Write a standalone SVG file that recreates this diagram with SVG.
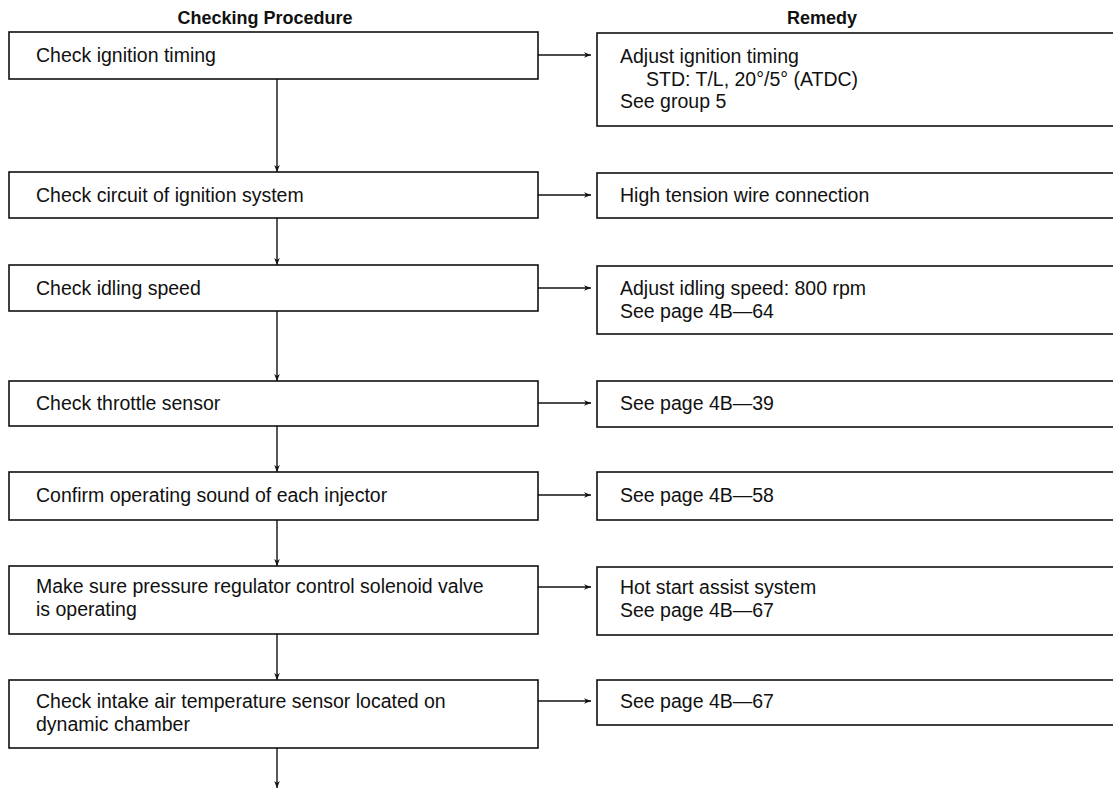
<svg xmlns="http://www.w3.org/2000/svg" width="1113" height="789" viewBox="0 0 1113 789">
<defs>
<marker id="ah" viewBox="0 0 10 10" refX="10" refY="5" markerWidth="7" markerHeight="7" markerUnits="userSpaceOnUse" orient="auto">
<path d="M0,1 L10,5 L0,9 L3,5 Z" fill="#111"/>
</marker>
<style>
.box{fill:#fff;stroke:#111;stroke-width:1.6}
.t{font-family:"Liberation Sans",Arial,sans-serif;font-size:19.5px;fill:#111}
.h{font-family:"Liberation Sans",Arial,sans-serif;font-size:18px;font-weight:bold;fill:#111}
.c{stroke:#111;stroke-width:1.4;fill:none;marker-end:url(#ah)}
</style>
</defs>
<rect width="1113" height="789" fill="#fff"/>
<g id="headers">
<text class="h" x="265" y="24" text-anchor="middle">Checking Procedure</text>
<text class="h" x="822" y="24" text-anchor="middle">Remedy</text>
</g>
<g id="connectors">
<line class="c" x1="277" y1="79" x2="277" y2="172"/>
<line class="c" x1="277" y1="218" x2="277" y2="265"/>
<line class="c" x1="277" y1="311" x2="277" y2="381"/>
<line class="c" x1="277" y1="426" x2="277" y2="472"/>
<line class="c" x1="277" y1="520" x2="277" y2="566"/>
<line class="c" x1="277" y1="634" x2="277" y2="680"/>
<line class="c" x1="277" y1="748" x2="277" y2="788"/>
<line class="c" x1="538" y1="55" x2="591" y2="55"/>
<line class="c" x1="538" y1="195" x2="591" y2="195"/>
<line class="c" x1="538" y1="288" x2="591" y2="288"/>
<line class="c" x1="538" y1="403" x2="591" y2="403"/>
<line class="c" x1="538" y1="495" x2="591" y2="495"/>
<line class="c" x1="538" y1="587" x2="591" y2="587"/>
<line class="c" x1="538" y1="701" x2="591" y2="701"/>
</g>
<g id="step1"><rect class="box" x="9" y="32" width="529" height="47"/><text class="t" x="36" y="62">Check ignition timing</text></g>
<g id="step2"><rect class="box" x="9" y="172" width="529" height="46"/><text class="t" x="36" y="202">Check circuit of ignition system</text></g>
<g id="step3"><rect class="box" x="9" y="265" width="529" height="46"/><text class="t" x="36" y="295">Check idling speed</text></g>
<g id="step4"><rect class="box" x="9" y="381" width="529" height="45"/><text class="t" x="36" y="410">Check throttle sensor</text></g>
<g id="step5"><rect class="box" x="9" y="472" width="529" height="48"/><text class="t" x="36" y="502">Confirm operating sound of each injector</text></g>
<g id="step6"><rect class="box" x="9" y="566" width="529" height="68"/><text class="t" x="36" y="593">Make sure pressure regulator control solenoid valve</text><text class="t" x="36" y="616">is operating</text></g>
<g id="step7"><rect class="box" x="9" y="680" width="529" height="68"/><text class="t" x="36" y="708">Check intake air temperature sensor located on</text><text class="t" x="36" y="731">dynamic chamber</text></g>
<g id="remedy1"><rect class="box" x="597" y="33" width="530" height="93"/><text class="t" x="620" y="63">Adjust ignition timing</text><text class="t" x="646" y="86">STD: T/L, 20°/5° (ATDC)</text><text class="t" x="620" y="108">See group 5</text></g>
<g id="remedy2"><rect class="box" x="597" y="173" width="530" height="45"/><text class="t" x="620" y="202">High tension wire connection</text></g>
<g id="remedy3"><rect class="box" x="597" y="266" width="530" height="68"/><text class="t" x="620" y="295">Adjust idling speed: 800 rpm</text><text class="t" x="620" y="318">See page 4B—64</text></g>
<g id="remedy4"><rect class="box" x="597" y="381" width="530" height="46"/><text class="t" x="620" y="410">See page 4B—39</text></g>
<g id="remedy5"><rect class="box" x="597" y="472" width="530" height="48"/><text class="t" x="620" y="502">See page 4B—58</text></g>
<g id="remedy6"><rect class="box" x="597" y="567" width="530" height="68"/><text class="t" x="620" y="594">Hot start assist system</text><text class="t" x="620" y="617">See page 4B—67</text></g>
<g id="remedy7"><rect class="box" x="597" y="680" width="530" height="45"/><text class="t" x="620" y="708">See page 4B—67</text></g>
</svg>
